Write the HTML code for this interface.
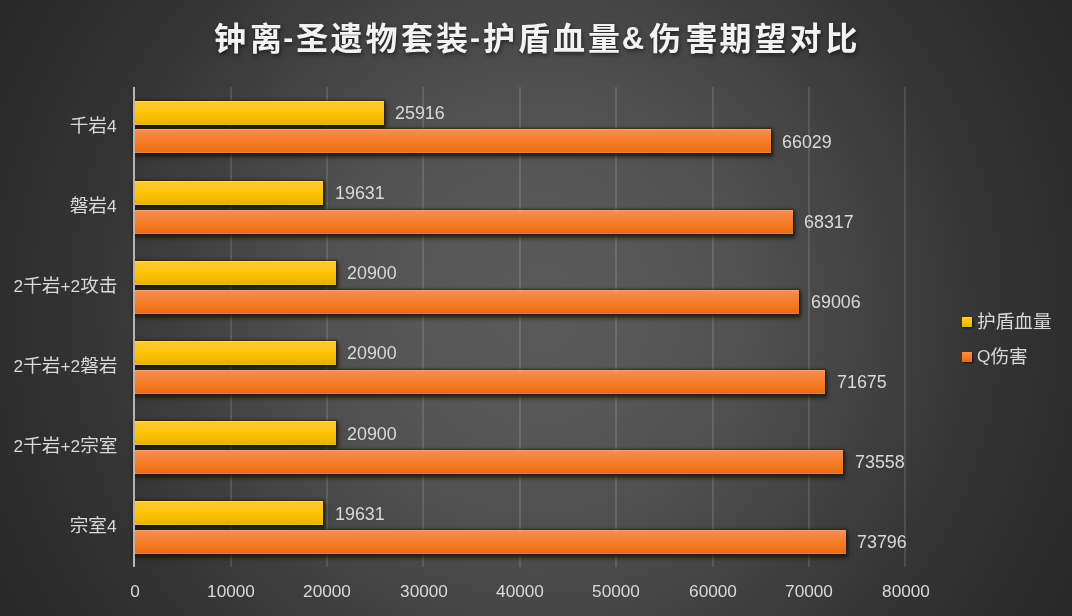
<!DOCTYPE html>
<html lang="zh"><head><meta charset="utf-8"><title>钟离-圣遗物套装-护盾血量&amp;伤害期望对比</title>
<style>
html,body{margin:0;padding:0;}
body{width:1072px;height:616px;overflow:hidden;background:#282828;font-family:"Liberation Sans","Noto Sans CJK SC",sans-serif;}
#chart{position:relative;width:1072px;height:616px;overflow:hidden;
  background:radial-gradient(circle 625px at 536px 308px,rgb(89,89,89) 0px,rgb(88,88,88) 60px,rgb(87,87,87) 110px,rgb(84,84,84) 167px,rgb(80,80,80) 215px,rgb(75,75,75) 262px,rgb(70,70,70) 300px,rgb(67,67,67) 329px,rgb(63,63,63) 357px,rgb(58,58,58) 402px,rgb(52,52,52) 450px,rgb(48,48,48) 500px,rgb(45,45,45) 536px,rgb(42,42,42) 590px,rgb(40,40,40) 625px);}
.grid{position:absolute;top:87px;height:480px;width:2px;background:rgba(255,255,255,.12);}
.axis{position:absolute;left:133.0px;top:87px;height:480px;width:2px;background:#b4b4b4;}
.bar{position:absolute;left:134.0px;height:24px;box-shadow:inset 0 1px 0 rgba(255,240,190,.22),inset 0 -1px 0 rgba(255,225,150,.22),0 0 2px .6px rgba(40,24,8,.72),1px 3px 4px 1px rgba(22,16,14,.72);}
.y{background:linear-gradient(180deg,#fdcc48 0%,#fdc836 8%,#fdc61e 30%,#fcc402 55%,#f0b900 80%,#e6b000 100%);}
.o{background:linear-gradient(180deg,#f29058 0%,#f4853f 25%,#f57b25 55%,#f0731a 78%,#e66a12 100%);}
.val{position:absolute;height:24px;line-height:24px;font-size:17.9px;color:#d9d9d9;white-space:nowrap;}
.cat{position:absolute;left:0;width:117.5px;height:24px;line-height:24px;text-align:right;font-size:17.3px;color:#d9d9d9;white-space:nowrap;}
.cj{display:inline-block;vertical-align:baseline;color:#d9d9d9;font-size:18.67px;line-height:24px;font-family:"Liberation Sans","Noto Sans CJK SC",sans-serif;}
.lt{display:inline-block;}
.val,.cat,.xl,.lg{will-change:transform;}
.xl{position:absolute;top:579px;width:80px;margin-left:-40px;height:24px;line-height:24px;text-align:center;font-size:17.2px;color:#d9d9d9;}
#title{position:absolute;left:0;top:0;filter:drop-shadow(1px 2px 2px rgba(0,0,0,.55));}
#title text{fill:#f2f2f2;font-family:"Liberation Sans","Noto Sans CJK SC",sans-serif;font-weight:bold;}
.lg{position:absolute;left:962px;height:24px;line-height:24px;font-size:17.3px;color:#d9d9d9;white-space:nowrap;}
.sw{position:absolute;left:0;top:7px;width:10px;height:10px;box-shadow:1px 1px 2px rgba(0,0,0,.6);}
.lgt{position:absolute;left:15px;top:0;}
</style></head><body><div id="chart">
<div class="grid" style="left:230px"></div>
<div class="grid" style="left:326px"></div>
<div class="grid" style="left:422px"></div>
<div class="grid" style="left:519px"></div>
<div class="grid" style="left:615px"></div>
<div class="grid" style="left:712px"></div>
<div class="grid" style="left:808px"></div>
<div class="grid" style="left:904px"></div>
<div class="bar y" style="top:101px;width:250px"></div>
<div class="bar o" style="top:129px;width:637px"></div>
<div class="bar y" style="top:181px;width:189px"></div>
<div class="bar o" style="top:210px;width:659px"></div>
<div class="bar y" style="top:261px;width:202px"></div>
<div class="bar o" style="top:290px;width:665px"></div>
<div class="bar y" style="top:341px;width:202px"></div>
<div class="bar o" style="top:370px;width:691px"></div>
<div class="bar y" style="top:421px;width:202px"></div>
<div class="bar o" style="top:450px;width:709px"></div>
<div class="bar y" style="top:501px;width:189px"></div>
<div class="bar o" style="top:530px;width:712px"></div>
<div class="val" style="left:395.43px;top:101px">25916</div>
<div class="val" style="left:782.12px;top:130px">66029</div>
<div class="cat" style="top:113.7px;padding-right:0.9px;width:116.6px"><span class="cj">千岩</span><span class="lt">4</span></div>
<div class="val" style="left:334.84px;top:181px">19631</div>
<div class="val" style="left:804.18px;top:210px">68317</div>
<div class="cat" style="top:193.7px;padding-right:0.9px;width:116.6px"><span class="cj">磐岩</span><span class="lt">4</span></div>
<div class="val" style="left:347.08px;top:261px">20900</div>
<div class="val" style="left:810.82px;top:290px">69006</div>
<div class="cat" style="top:273.7px;padding-right:0px;width:117.5px"><span class="lt">2</span><span class="cj">千岩</span><span class="lt">+2</span><span class="cj">攻击</span></div>
<div class="val" style="left:347.08px;top:341px">20900</div>
<div class="val" style="left:836.55px;top:370px">71675</div>
<div class="cat" style="top:353.7px;padding-right:0px;width:117.5px"><span class="lt">2</span><span class="cj">千岩</span><span class="lt">+2</span><span class="cj">磐岩</span></div>
<div class="val" style="left:347.08px;top:422px">20900</div>
<div class="val" style="left:854.7px;top:450px">73558</div>
<div class="cat" style="top:433.7px;padding-right:0px;width:117.5px"><span class="lt">2</span><span class="cj">千岩</span><span class="lt">+2</span><span class="cj">宗室</span></div>
<div class="val" style="left:334.84px;top:502px">19631</div>
<div class="val" style="left:856.99px;top:530px">73796</div>
<div class="cat" style="top:513.7px;padding-right:0.9px;width:116.6px"><span class="cj">宗室</span><span class="lt">4</span></div>
<div class="axis"></div>
<div class="xl" style="left:135.1px">0</div>
<div class="xl" style="left:230.7px">10000</div>
<div class="xl" style="left:327.1px">20000</div>
<div class="xl" style="left:423.5px">30000</div>
<div class="xl" style="left:519.9px">40000</div>
<div class="xl" style="left:616.3px">50000</div>
<div class="xl" style="left:712.7px">60000</div>
<div class="xl" style="left:809.1px">70000</div>
<div class="xl" style="left:905.5px">80000</div>
<svg id="title" role="img" aria-label="钟离-圣遗物套装-护盾血量&amp;伤害期望对比" width="1072" height="80" viewBox="0 0 1072 80"><title>钟离-圣遗物套装-护盾血量&amp;伤害期望对比</title><text x="214 250" y="50" font-size="32">钟离</text><text x="283.3" y="48.1" font-size="30">-</text><text x="296 330.5 365.5 401 436" y="50" font-size="32">圣遗物套装</text><text x="470.05" y="48.1" font-size="30">-</text><text x="483 518 553 588" y="50" font-size="32">护盾血量</text><text x="621.85" y="48.6" font-size="31">&amp;</text><text x="649 685.5 719.5 754.5 789.5 825.5" y="50" font-size="32">伤害期望对比</text></svg>
<div class="lg" style="top:310px"><span class="sw y"></span><span class="lgt"><span class="cj">护盾血量</span></span></div>
<div class="lg" style="top:345px"><span class="sw o"></span><span class="lgt"><span class="lt" style="position:relative;top:-1.5px">Q</span><span class="cj">伤害</span></span></div>
</div></body></html>
